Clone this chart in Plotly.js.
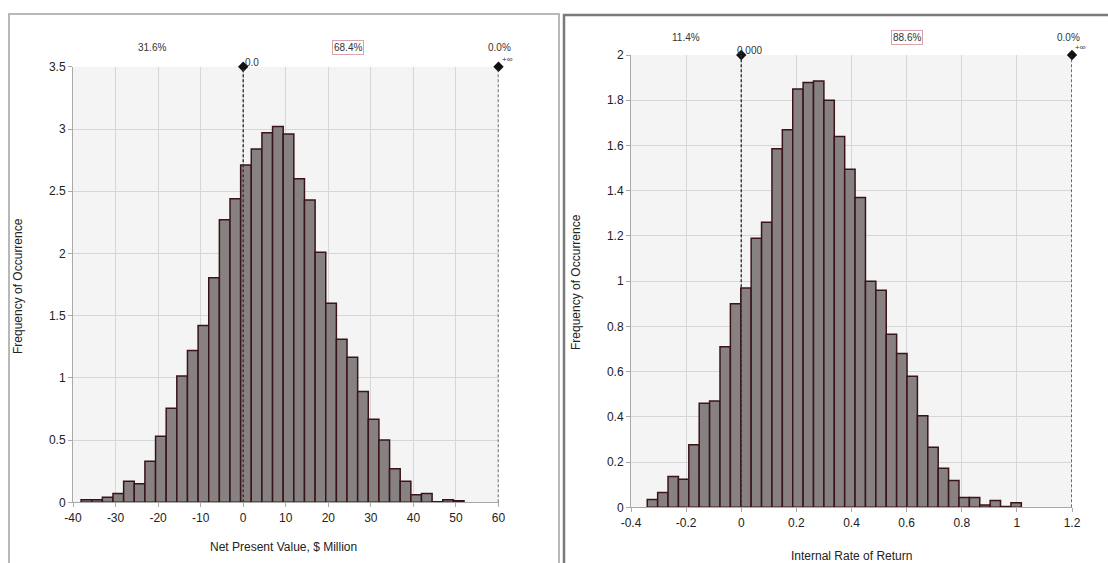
<!DOCTYPE html>
<html>
<head>
<meta charset="utf-8">
<script src="https://cdn.plot.ly/plotly-3.0.1.min.js"></script>
<style>
  html, body { margin: 0; padding: 0; background: #ffffff; }
  #chart { width: 1108px; height: 563px; }
</style>
</head>
<body>
<div id="chart"></div>
<script>
// ---------- DATA ----------
// Net Present Value histogram ($ Million), bin width 2.5
const npvBinCenters = [-36.85, -34.35, -31.85, -29.35, -26.85, -24.35, -21.85, -19.35, -16.85, -14.35,
  -11.85, -9.35, -6.85, -4.35, -1.85, 0.65, 3.15, 5.65, 8.15, 10.65,
  13.15, 15.65, 18.15, 20.65, 23.15, 25.65, 28.15, 30.65, 33.15, 35.65,
  38.15, 40.65, 43.15, 45.65, 48.15, 50.65];
const npvBinWidth = 2.5;
const npvFreq = [0.02, 0.02, 0.04, 0.07, 0.17, 0.15, 0.33, 0.53, 0.755, 1.015,
  1.22, 1.42, 1.805, 2.27, 2.44, 2.71, 2.84, 2.97, 3.02, 2.96,
  2.60, 2.43, 2.01, 1.60, 1.31, 1.165, 0.89, 0.667, 0.50, 0.27,
  0.17, 0.06, 0.07, 0.005, 0.02, 0.012];
const npvTickVals = [-40, -30, -20, -10, 0, 10, 20, 30, 40, 50, 60];
const npvTickText = ["-40", "-30", "-20", "-10", "0", "10", "20", "30", "40", "50", "60"];
const npvCutoffs = [0, 60];
const npvCutoffLabels = ["0.0", "+\u221e"];
const npvPercents = ["31.6%", "68.4%", "0.0%"];

// Internal Rate of Return histogram, bin width 0.0377
const irrBinCenters = [-0.3222, -0.2845, -0.2468, -0.2091, -0.1714, -0.1337, -0.0960, -0.0583, -0.0206, 0.0171,
  0.0548, 0.0925, 0.1302, 0.1679, 0.2056, 0.2433, 0.2810, 0.3187, 0.3564, 0.3941,
  0.4318, 0.4695, 0.5072, 0.5449, 0.5826, 0.6203, 0.6580, 0.6957, 0.7334, 0.7711,
  0.8088, 0.8465, 0.8842, 0.9219, 0.9596, 0.9973];
const irrBinWidth = 0.0377;
const irrFreq = [0.035, 0.065, 0.136, 0.124, 0.277, 0.46, 0.47, 0.71, 0.90, 0.97,
  1.19, 1.26, 1.585, 1.67, 1.85, 1.878, 1.885, 1.80, 1.64, 1.495,
  1.37, 1.00, 0.96, 0.765, 0.68, 0.58, 0.405, 0.265, 0.173, 0.118,
  0.043, 0.043, 0.01, 0.03, 0.003, 0.02];
const irrTickVals = [-0.4, -0.2, 0, 0.2, 0.4, 0.6, 0.8, 1, 1.2];
const irrTickText = ["-0.4", "-0.2", "0", "0.2", "0.4", "0.6", "0.8", "1", "1.2"];
const irrCutoffs = [0, 1.2];
const irrCutoffLabels = ["0.000", "+\u221e"];
const irrPercents = ["11.4%", "88.6%", "0.0%"];

const npvTitle = "Net Present Value, $ Million";
const irrTitle = "Internal Rate of Return";
const yTitle = "Frequency of Occurrence";

// ---------- LAYOUT HELPERS ----------
const W = 1108, H = 563;
const px = v => v / W;
const py = v => 1 - v / H;
const FONT = "Liberation Sans, Arial, sans-serif";
const barFill = "#878181";
const barEdge = "#3a1418";
const gridC = "#d6d6d6";
const axisC = "#a9a9a9";

const npvYMax = 3.5, irrYMax = 2;

const traces = [
  {
    type: "bar", x: npvBinCenters, y: npvFreq, width: npvBinWidth,
    xaxis: "x", yaxis: "y",
    marker: { color: barFill, line: { color: barEdge, width: 1.5 } },
    hoverinfo: "x+y", showlegend: false
  },
  {
    type: "bar", x: irrBinCenters, y: irrFreq, width: irrBinWidth,
    xaxis: "x2", yaxis: "y2",
    marker: { color: barFill, line: { color: barEdge, width: 1.5 } },
    hoverinfo: "x+y", showlegend: false
  },
  {
    type: "scatter", mode: "markers", x: npvCutoffs, y: npvCutoffs.map(() => npvYMax),
    xaxis: "x", yaxis: "y", cliponaxis: false,
    marker: { symbol: "diamond", size: 8, color: "#111" }, showlegend: false, hoverinfo: "x"
  },
  {
    type: "scatter", mode: "markers", x: irrCutoffs, y: irrCutoffs.map(() => irrYMax),
    xaxis: "x2", yaxis: "y2", cliponaxis: false,
    marker: { symbol: "diamond", size: 8, color: "#111" }, showlegend: false, hoverinfo: "x"
  }
];

const axisCommon = {
  showgrid: true, gridcolor: gridC, gridwidth: 1,
  zeroline: false, showline: true, linecolor: axisC, linewidth: 1,
  ticks: "outside", ticklen: 4, tickcolor: axisC,
  tickfont: { family: FONT, size: 12, color: "#222" },
  fixedrange: true
};

const dashStyle = { color: "#333", width: 1.4, dash: "3px,2px" };
const shapes = [];
npvCutoffs.forEach(c => shapes.push({
  type: "line", xref: "x", yref: "y", x0: c, x1: c, y0: 0, y1: npvYMax, line: dashStyle
}));
irrCutoffs.forEach(c => shapes.push({
  type: "line", xref: "x2", yref: "y2", x0: c, x1: c, y0: 0, y1: irrYMax, line: dashStyle
}));
// panel frames
shapes.push({ type: "rect", xref: "paper", yref: "paper",
  x0: px(9), x1: px(559), y0: -0.05, y1: py(14),
  line: { color: "#b8b8b8", width: 2 }, fillcolor: "rgba(0,0,0,0)" });
shapes.push({ type: "rect", xref: "paper", yref: "paper",
  x0: px(564), x1: 1.05, y0: -0.05, y1: py(15),
  line: { color: "#7a7a7a", width: 2.5 }, fillcolor: "rgba(0,0,0,0)" });

const smallFont = { family: FONT, size: 10, color: "#333" };
const tinyFont = { family: FONT, size: 8, color: "#333" };
const titleFont = { family: FONT, size: 12, color: "#222" };
function note(x, y, text, font, extra) {
  return Object.assign({ xref: "paper", yref: "paper", x: px(x), y: py(y), text: text,
    showarrow: false, font: font, xanchor: "center", yanchor: "middle" }, extra || {});
}
const boxed = { bordercolor: "#d9a3ad", borderwidth: 1, borderpad: 1 };
const annotations = [
  note(152, 47, npvPercents[0], smallFont),
  note(348, 47, npvPercents[1], smallFont, boxed),
  note(499, 47, npvPercents[2], smallFont),
  note(243, 62, npvCutoffLabels[0], smallFont, { xanchor: "left" }),
  note(500, 59, npvCutoffLabels[1], tinyFont, { xanchor: "left" }),
  note(686, 38, irrPercents[0], smallFont),
  note(907, 38, irrPercents[1], smallFont, boxed),
  note(1068, 38, irrPercents[2], smallFont),
  note(735, 50, irrCutoffLabels[0], smallFont, { xanchor: "left" }),
  note(1073, 48, irrCutoffLabels[1], tinyFont, { xanchor: "left" }),
  note(283, 547, npvTitle, titleFont),
  note(851, 556, irrTitle, titleFont),
  note(18, 286, yTitle, titleFont, { textangle: -90 }),
  note(576, 282, yTitle, titleFont, { textangle: -90 })
];

const layout = {
  width: W, height: H,
  margin: { l: 0, r: 0, t: 0, b: 0 },
  paper_bgcolor: "#ffffff",
  plot_bgcolor: "#f4f4f4",
  showlegend: false,
  barmode: "overlay",
  xaxis: Object.assign({}, axisCommon, {
    domain: [px(73), px(498.5)], range: [-40, 60], anchor: "y",
    tickmode: "array", tickvals: npvTickVals, ticktext: npvTickText
  }),
  yaxis: Object.assign({}, axisCommon, {
    domain: [py(502.3), py(66.8)], range: [0, npvYMax], dtick: 0.5, anchor: "x"
  }),
  xaxis2: Object.assign({}, axisCommon, {
    domain: [px(631), px(1072)], range: [-0.4, 1.2], anchor: "y2",
    tickmode: "array", tickvals: irrTickVals, ticktext: irrTickText
  }),
  yaxis2: Object.assign({}, axisCommon, {
    domain: [py(507.3), py(55)], range: [0, irrYMax], dtick: 0.2, anchor: "x2"
  }),
  shapes: shapes,
  annotations: annotations
};

Plotly.newPlot("chart", traces, layout, { displayModeBar: false, staticPlot: true });
</script>
</body>
</html>
